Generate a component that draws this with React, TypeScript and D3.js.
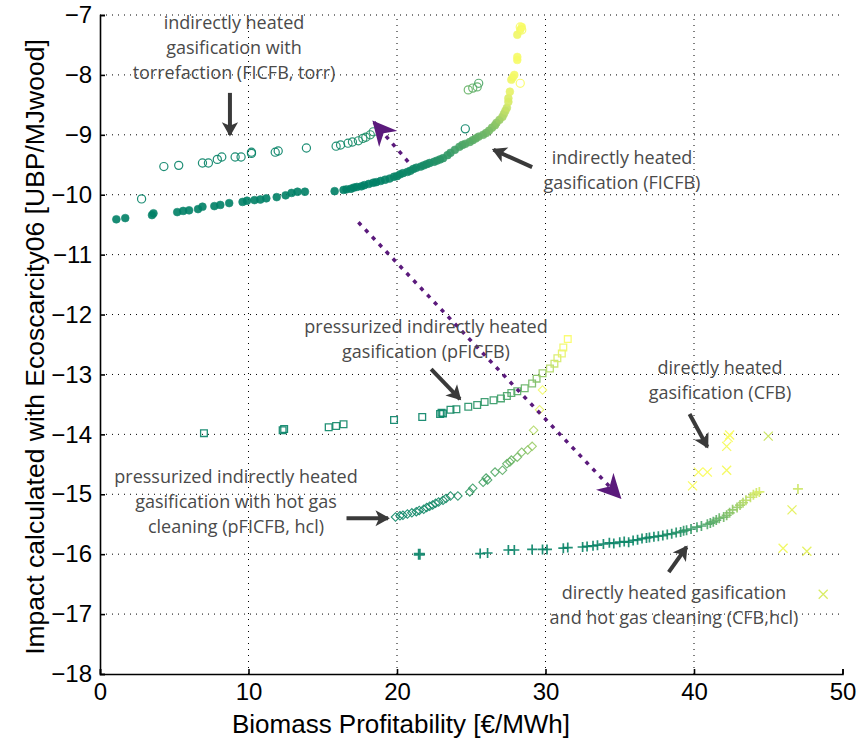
import React, { useEffect, useRef } from 'react';
import * as d3 from 'd3';

// [x, y, colour value 0..1]
const ficfb: [number, number, number][] = [
  [1.1, -10.41, 0], [1.7, -10.39, 0], [3.5, -10.34, 0], [3.6, -10.31, 0], [5.2, -10.29, 0],
  [5.6, -10.27, 0], [6.0, -10.26, 0], [6.6, -10.24, 0], [6.9, -10.2, 0], [7.7, -10.19, 0],
  [8.1, -10.17, 0], [8.7, -10.14, 0], [9.6, -10.12, 0], [9.9, -10.1, 0], [10.4, -10.09, 0],
  [10.8, -10.08, 0], [11.2, -10.06, 0], [11.9, -10.04, 0], [12.5, -10.01, 0], [12.9, -9.97, 0],
  [13.3, -9.95, 0], [13.8, -9.95, 0], [15.8, -9.94, 0], [16.4, -9.92, 0], [16.6, -9.91, 0],
  [16.9, -9.9, 0], [17.1, -9.88, 0], [17.3, -9.87, 0], [17.6, -9.86, 0], [17.8, -9.84, 0],
  [18.1, -9.82, 0], [18.4, -9.8, 0], [18.6, -9.79, 0], [18.9, -9.77, 0], [19.2, -9.75, 0.02],
  [19.5, -9.73, 0.02], [19.8, -9.7, 0.03], [20.0, -9.69, 0.03], [20.2, -9.66, 0.04], [20.4, -9.64, 0.04],
  [20.7, -9.62, 0.05], [20.9, -9.6, 0.05], [21.1, -9.57, 0.06], [21.3, -9.55, 0.06], [21.6, -9.53, 0.07],
  [21.8, -9.51, 0.08], [22.0, -9.49, 0.09], [22.2, -9.47, 0.1], [22.5, -9.45, 0.12], [22.7, -9.43, 0.14],
  [22.9, -9.41, 0.15], [23.1, -9.39, 0.17], [23.4, -9.34, 0.19], [23.6, -9.3, 0.21], [23.9, -9.25, 0.24],
  [24.2, -9.2, 0.27], [24.4, -9.17, 0.29], [24.6, -9.15, 0.31], [24.9, -9.12, 0.33], [25.1, -9.09, 0.35],
  [25.3, -9.06, 0.37], [25.5, -9.03, 0.39], [25.8, -9.0, 0.41], [26.0, -8.97, 0.43], [26.2, -8.93, 0.46],
  [26.4, -8.88, 0.49], [26.6, -8.84, 0.52], [26.7, -8.8, 0.55], [26.9, -8.75, 0.6], [27.1, -8.7, 0.66],
  [27.2, -8.65, 0.7], [27.3, -8.6, 0.74], [27.4, -8.55, 0.78], [27.5, -8.45, 0.84], [27.5, -8.39, 0.86],
  [27.6, -8.28, 0.9], [27.7, -8.08, 0.94], [27.8, -8.04, 0.95], [27.9, -8.0, 0.96], [28.1, -7.75, 0.97],
  [28.1, -7.7, 0.97], [28.1, -7.33, 0.94], [28.3, -7.25, 0.96], [28.4, -7.2, 0.98]
];

const ficfbTorr: [number, number, number][] = [
  [2.8, -10.07, 0.02], [4.3, -9.53, 0.02], [5.3, -9.51, 0.02], [6.9, -9.47, 0.02], [7.3, -9.47, 0.02],
  [7.9, -9.41, 0.02], [8.2, -9.37, 0.02], [9.1, -9.37, 0.02], [9.5, -9.37, 0.02], [10.2, -9.31, 0.02],
  [10.2, -9.29, 0.02], [11.8, -9.29, 0.02], [12.0, -9.27, 0.02], [13.9, -9.22, 0.02], [15.9, -9.19, 0.04],
  [16.2, -9.17, 0.05], [16.7, -9.14, 0.06], [17.0, -9.12, 0.07], [17.4, -9.1, 0.08], [17.7, -9.06, 0.1],
  [17.9, -9.04, 0.11], [18.2, -9.0, 0.12], [18.4, -8.95, 0.14], [24.6, -8.9, 0.03], [24.8, -8.25, 0.4],
  [25.1, -8.22, 0.38], [25.4, -8.2, 0.36], [25.5, -8.14, 0.3], [28.3, -8.14, 0.98], [28.3, -7.2, 0.98],
  [28.4, -7.25, 0.96]
];

const pficfb: [number, number, number][] = [
  [7.0, -13.98, 0.02], [12.3, -13.93, 0.02], [12.4, -13.91, 0.02], [15.4, -13.88, 0.04], [15.9, -13.86, 0.05],
  [16.4, -13.83, 0.06], [19.8, -13.76, 0.02], [21.7, -13.71, 0.03], [22.9, -13.66, 0.04], [23.0, -13.64, 0.04],
  [23.1, -13.65, 0.04], [23.6, -13.59, 0.08], [24.0, -13.58, 0.1], [24.8, -13.54, 0.14], [25.4, -13.51, 0.16],
  [25.9, -13.46, 0.18], [26.5, -13.43, 0.2], [27.0, -13.4, 0.24], [27.4, -13.36, 0.28], [27.7, -13.31, 0.3],
  [28.1, -13.28, 0.34], [28.6, -13.23, 0.4], [29.1, -13.15, 0.46], [29.4, -13.07, 0.52], [29.8, -12.98, 0.6],
  [30.3, -12.9, 0.7], [30.6, -12.82, 0.78], [30.8, -12.73, 0.84], [31.1, -12.65, 0.9], [31.2, -12.55, 0.94],
  [31.5, -12.41, 0.98]
];

const pficfbHcl: [number, number, number][] = [
  [19.9, -15.38, 0.04], [20.2, -15.36, 0.04], [20.4, -15.35, 0.04], [20.7, -15.33, 0.04], [21.0, -15.31, 0.05],
  [21.3, -15.29, 0.05], [21.5, -15.27, 0.05], [21.8, -15.25, 0.06], [22.0, -15.22, 0.06], [22.2, -15.2, 0.07],
  [22.4, -15.18, 0.07], [22.6, -15.15, 0.07], [22.8, -15.13, 0.08], [23.1, -15.1, 0.08], [23.3, -15.07, 0.09],
  [23.6, -15.03, 0.1], [24.1, -15.03, 0.14], [24.9, -14.96, 0.2], [25.1, -14.9, 0.22], [25.8, -14.8, 0.26],
  [26.0, -14.73, 0.28], [26.1, -14.76, 0.28], [26.6, -14.63, 0.32], [27.1, -14.6, 0.36], [27.4, -14.49, 0.38],
  [27.6, -14.46, 0.4], [27.7, -14.43, 0.42], [28.1, -14.38, 0.46], [28.4, -14.3, 0.5], [28.8, -14.26, 0.54],
  [29.1, -14.2, 0.6], [29.2, -13.93, 0.7], [29.6, -13.59, 0.9], [29.8, -13.26, 0.95]
];

const cfbHcl: [number, number, number][] = [
  [25.6, -15.99, 0.02], [26.1, -15.98, 0.02], [27.5, -15.93, 0.02], [27.9, -15.93, 0.02], [29.1, -15.92, 0.02],
  [29.8, -15.92, 0.03], [30.1, -15.92, 0.03], [31.2, -15.9, 0.03], [31.5, -15.89, 0.03], [32.5, -15.88, 0.03],
  [32.8, -15.87, 0.03], [33.2, -15.86, 0.03], [33.5, -15.85, 0.03], [33.9, -15.83, 0.03], [34.3, -15.81, 0.03],
  [34.6, -15.82, 0.03], [35.0, -15.8, 0.03], [35.3, -15.79, 0.04], [35.6, -15.8, 0.04], [35.9, -15.77, 0.04],
  [36.2, -15.76, 0.04], [36.5, -15.74, 0.05], [36.8, -15.73, 0.05], [37.0, -15.72, 0.06], [37.3, -15.71, 0.06],
  [37.6, -15.7, 0.07], [37.9, -15.69, 0.08], [38.2, -15.67, 0.09], [38.5, -15.66, 0.1], [38.8, -15.64, 0.12],
  [39.1, -15.63, 0.14], [39.3, -15.61, 0.16], [39.5, -15.6, 0.18], [39.8, -15.58, 0.2], [40.2, -15.55, 0.24],
  [40.5, -15.53, 0.26], [40.9, -15.5, 0.3], [41.1, -15.48, 0.32], [41.3, -15.46, 0.34], [41.5, -15.43, 0.37],
  [41.7, -15.4, 0.4], [42.0, -15.38, 0.44], [42.2, -15.35, 0.48], [42.4, -15.31, 0.52], [42.6, -15.26, 0.56],
  [42.9, -15.22, 0.6], [43.1, -15.18, 0.64], [43.3, -15.14, 0.68], [43.5, -15.1, 0.72], [43.8, -15.05, 0.76],
  [44.0, -15.01, 0.8], [44.2, -14.98, 0.82], [44.4, -14.96, 0.84], [47.0, -14.91, 0.8]
];
const cfbHclBig: [number, number, number][] = [[21.5, -16.0, 0.02]];

const cfb: [number, number, number][] = [
  [42.4, -14.01, 0.98], [42.3, -14.05, 0.98], [42.2, -14.2, 0.96], [45.0, -14.03, 0.8], [40.3, -14.63, 0.98],
  [40.9, -14.63, 0.98], [42.2, -14.6, 0.96], [39.9, -14.86, 0.98], [46.6, -15.26, 0.9], [46.0, -15.9, 0.95],
  [47.6, -15.95, 0.9], [48.7, -16.67, 0.85]
];

const xTicks = [0, 10, 20, 30, 40, 50];
const yTicks = [-7, -8, -9, -10, -11, -12, -13, -14, -15, -16, -17, -18];

// text annotations: lines, centre x, first baseline (px)
const notes = [
  { lines: ['indirectly heated', 'gasification with', 'torrefaction (FICFB, torr)'], x: 234, y: 29 },
  { lines: ['indirectly heated', 'gasification (FICFB)'], x: 622, y: 164 },
  { lines: ['pressurized indirectly heated', 'gasification (pFICFB)'], x: 426, y: 333 },
  { lines: ['directly heated', 'gasification (CFB)'], x: 720, y: 374 },
  { lines: ['pressurized indirectly heated', 'gasification with hot gas', 'cleaning (pFICFB, hcl)'], x: 236, y: 483 },
  { lines: ['directly heated gasification', 'and hot gas cleaning (CFB,hcl)'], x: 674, y: 599 }
];
// grey arrows: [x1, y1, x2 (tip), y2 (tip)] in data units
const arrows = [
  [8.75, -8.3, 8.75, -9.0],
  [29.1, -9.54, 26.5, -9.25],
  [22.3, -12.91, 24.24, -13.41],
  [39.7, -13.66, 40.9, -14.21],
  [16.6, -15.4, 19.4, -15.4],
  [38.3, -16.3, 39.5, -15.88]
];
// purple dotted arrows [x1, y1, x2 (tip), y2 (tip)]
const purpleArrows = [
  [20.75, -9.45, 18.45, -8.79],
  [17.4, -10.46, 35.0, -15.05]
];

const summer = (c: number) => d3.rgb(255 * c, 255 * (0.5 + 0.5 * c), 102).toString();

function Chart() {
  const svgRef = useRef<SVGSVGElement>(null);

  useEffect(() => {
    document.body.style.margin = '0';
    const svg = d3.select(svgRef.current);
    svg.selectAll('*').remove();

    const x = d3.scaleLinear().domain([0, 50]).range([100, 842.5]);
    const y = d3.scaleLinear().domain([-18, -7]).range([674, 15]);
    const font = '"Liberation Sans", Arial, sans-serif';

    const defs = svg.append('defs');
    defs.append('marker').attr('id', 'greyHead').attr('viewBox', '0 0 10 10')
      .attr('refX', 8).attr('refY', 5).attr('markerWidth', 4.5).attr('markerHeight', 4.5)
      .attr('markerUnits', 'strokeWidth').attr('orient', 'auto')
      .append('path').attr('d', 'M1,0.5 L9,5 L1,9.5 L3,5 Z').attr('fill', '#3a3a3a');
    defs.append('marker').attr('id', 'purpleHead').attr('viewBox', '0 0 10 10')
      .attr('refX', 9).attr('refY', 5).attr('markerWidth', 7).attr('markerHeight', 7)
      .attr('markerUnits', 'strokeWidth').attr('orient', 'auto')
      .append('path').attr('d', 'M0,0 L10,5 L0,10 L3,5 Z').attr('fill', '#5b1a7c');

    // grid
    const grid = svg.append('g').attr('stroke', '#000').attr('stroke-width', 1).attr('stroke-dasharray', '1,5');
    xTicks.filter(t => t > 0 && t < 50).forEach(t => {
      grid.append('line').attr('x1', x(t)).attr('x2', x(t)).attr('y1', y(-18)).attr('y2', y(-7));
    });
    yTicks.filter(t => t > -18).forEach(t => {
      grid.append('line').attr('x1', x(0)).attr('x2', x(50)).attr('y1', y(t)).attr('y2', y(t));
    });

    // axes
    const xAxis = svg.append('g').attr('transform', `translate(0,${y(-18)})`)
      .call(d3.axisBottom(x).tickValues(xTicks).tickSize(-5).tickPadding(9));
    const yAxis = svg.append('g').attr('transform', `translate(${x(0)},0)`)
      .call(d3.axisLeft(y).tickValues(yTicks).tickSize(-5).tickPadding(8)
        .tickFormat(d => String(d).replace('-', '\u2212')));
    [xAxis, yAxis].forEach(a => {
      a.select('.domain').attr('stroke', '#000').attr('stroke-width', 1.6);
      a.selectAll('.tick line').attr('stroke', '#000').attr('stroke-width', 1.6);
      a.selectAll('text').attr('fill', '#000').style('font-family', font).style('font-size', '24px');
    });

    svg.append('text').attr('x', 401).attr('y', 733).attr('text-anchor', 'middle')
      .style('font-family', font).style('font-size', '26px')
      .text('Biomass Profitability [\u20ac/MWh]');
    svg.append('text').attr('transform', `translate(44,347) rotate(-90)`).attr('text-anchor', 'middle')
      .style('font-family', font).style('font-size', '26.5px')
      .text('Impact calculated with Ecoscarcity06 [UBP/MJwood]');

    const plot = svg.append('g');
    const addSym = (data: [number, number, number][], type: d3.SymbolType, size: number, filled: boolean, sw = 1.3, rot = 0) => {
      const sym = d3.symbol().type(type).size(size);
      plot.append('g').selectAll('path').data(data).enter().append('path')
        .attr('d', sym)
        .attr('transform', d => `translate(${x(d[0])},${y(d[1])}) rotate(${rot})`)
        .attr('fill', d => (filled ? summer(d[2]) : 'none'))
        .attr('stroke', d => summer(d[2]))
        .attr('stroke-width', sw)
        .attr('opacity', 0.9);
    };
    addSym(ficfb, d3.symbolCircle, 48, true, 0.6);
    addSym(ficfbTorr, d3.symbolCircle, 52, false, 1.2);
    addSym(pficfb, d3.symbolSquare, 45, false, 1.3);
    addSym(pficfbHcl, d3.symbolSquare, 36, false, 1.1, 45);
    // plus markers drawn as strokes
    const plus = (data: [number, number, number][], half: number, sw: number) => {
      plot.append('g').selectAll('path').data(data).enter().append('path')
        .attr('d', d => `M${x(d[0]) - half},${y(d[1])}h${2 * half}M${x(d[0])},${y(d[1]) - half}v${2 * half}`)
        .attr('stroke', d => summer(d[2])).attr('stroke-width', sw).attr('fill', 'none').attr('opacity', 0.9);
    };
    plus(cfbHcl, 5, 1.7);
    plus(cfbHclBig, 5.5, 3);
    plot.append('g').selectAll('path').data(cfb).enter().append('path')
      .attr('d', d => `M${x(d[0]) - 4.5},${y(d[1]) - 4.5}l9,9M${x(d[0]) - 4.5},${y(d[1]) + 4.5}l9,-9`)
      .attr('stroke', d => summer(d[2])).attr('stroke-width', 1.3).attr('fill', 'none');

    // purple arrows
    purpleArrows.forEach(a => {
      svg.append('line').attr('x1', x(a[0])).attr('y1', y(a[1])).attr('x2', x(a[2])).attr('y2', y(a[3]))
        .attr('stroke', '#5b1a7c').attr('stroke-width', 3.5).attr('stroke-dasharray', '4,6')
        .attr('marker-end', 'url(#purpleHead)');
    });

    // grey arrows
    arrows.forEach(a => {
      svg.append('line').attr('x1', x(a[0])).attr('y1', y(a[1])).attr('x2', x(a[2])).attr('y2', y(a[3]))
        .attr('stroke', '#3a3a3a').attr('stroke-width', 4)
        .attr('marker-end', 'url(#greyHead)');
    });

    // notes
    notes.forEach(n => {
      const t = svg.append('text').attr('text-anchor', 'middle').attr('fill', '#4a4a4a')
        .style('font-family', '"Open Sans", sans-serif').style('font-size', '18px');
      n.lines.forEach((l, i) => {
        t.append('tspan').attr('x', n.x).attr('y', n.y + i * 25).text(l);
      });
    });
  }, []);

  return <svg ref={svgRef} width={859} height={746} style={{ display: 'block', background: '#fff' }} />;
}

export default function App() {
  return <Chart />;
}
